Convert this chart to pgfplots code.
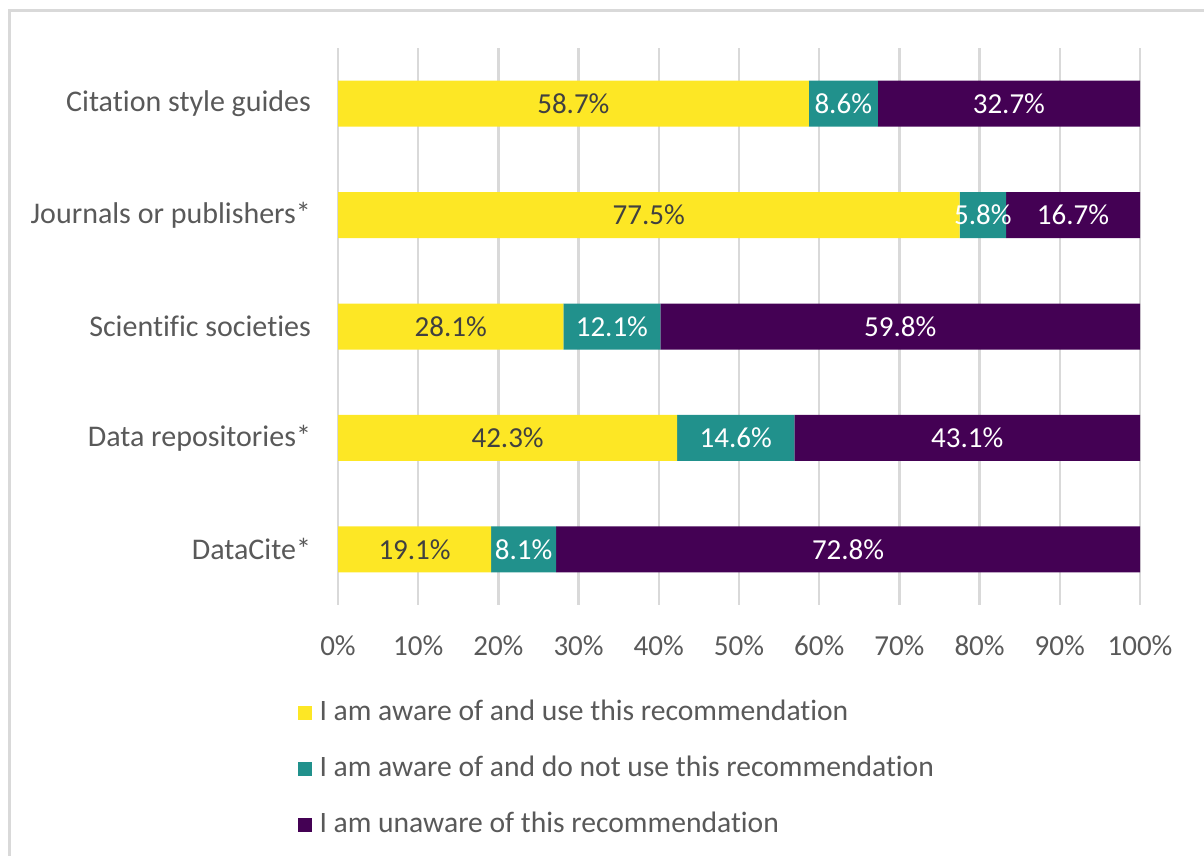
\documentclass[border=0pt]{standalone}
\usepackage{fontspec}
\setmainfont{Carlito}[Ligatures=NoCommon]
\usepackage{pgfplots}
\usepackage{pgfplotstable}
\pgfplotsset{compat=1.18}
\definecolor{vyellow}{HTML}{FDE725}
\definecolor{vteal}{HTML}{21918C}
\definecolor{vpurple}{HTML}{440154}
\definecolor{txtgray}{HTML}{595959}
\definecolor{labdark}{HTML}{404040}
\definecolor{gridgray}{HTML}{D9D9D9}

% shares per source (percent)
\pgfplotstableread{
cat use nouse unaware
0 58.7 8.6 32.7
1 77.5 5.8 16.7
2 28.1 12.1 59.8
3 42.3 14.6 43.1
4 19.1 8.1 72.8
}\datatable

\newcommand{\chartfont}{\fontsize{14.5bp}{17bp}\selectfont}

\pgfplotsset{
  frame/.style={
    at={(169bp,125.5bp)}, anchor=south west,
    scale only axis, width=401bp, height=278.5bp,
    xmin=0, xmax=100, ymin=-0.5, ymax=4.5,
    y dir=reverse,
    /pgf/number format/assume math mode=true,
  },
  barlabel/.style={
    only marks, mark=o, mark size=0pt, mark options={draw=none},
    point meta=explicit,
    nodes near coords={\pgfmathprintnumber[fixed,fixed zerofill,precision=1,assume math mode=true]{\pgfplotspointmeta}\%},
    nodes near coords align=center,
    every node near coord/.style={anchor=center, font=\chartfont, text=#1},
  },
}

\begin{document}
\begin{tikzpicture}
\path[use as bounding box] (0,0) rectangle (602bp,428bp);
\draw[gridgray, line width=1.5bp] (4.5bp,-5bp) -- (4.5bp,422.5bp) -- (610bp,422.5bp);
\begin{axis}[
  frame,
  xbar stacked, bar width=23bp,
  ytick={0,...,4},
  yticklabels={Citation style guides, Journals or publishers*, Scientific societies, Data repositories*, DataCite*},
  xtick={0,10,...,100},
  xticklabel={\pgfmathprintnumber{\tick}\%},
  xmajorgrids, major grid style={gridgray, line width=1.2bp},
  axis line style={draw=none},
  major tick length=0pt,
  tick label style={font=\chartfont, text=txtgray},
  yticklabel style={xshift=-10bp, font=\fontsize{15bp}{18bp}\selectfont},
  xticklabel style={yshift=-12bp},
  legend image code/.code={\fill[#1] (0bp,-3.5bp) rectangle (7bp,3.5bp);},
  legend cell align=left,
  legend style={at={(-0.051,-0.16)}, anchor=north west, draw=none, fill=none,
    inner sep=0pt, font=\fontsize{14.8bp}{17bp}\selectfont, text=txtgray, row sep=10bp,
    nodes={text height=11bp, text depth=3bp, inner sep=2bp},
    /tikz/every odd column/.append style={column sep=2bp}},
]
\addplot[fill=vyellow, draw=none] table[x=use, y=cat]{\datatable};
\addlegendentry{I am aware of and use this recommendation}
\addplot[fill=vteal, draw=none] table[x=nouse, y=cat]{\datatable};
\addlegendentry{I am aware of and do not use this recommendation}
\addplot[fill=vpurple, draw=none] table[x=unaware, y=cat]{\datatable};
\addlegendentry{I am unaware of this recommendation}
\end{axis}
% value labels, centred in each segment
\begin{axis}[frame, hide axis]
\addplot[barlabel=labdark] table[x expr=\thisrow{use}/2, y=cat, meta=use]{\datatable};
\addplot[barlabel=white] table[x expr=\thisrow{use}+\thisrow{nouse}/2, y=cat, meta=nouse]{\datatable};
\addplot[barlabel=white] table[x expr=\thisrow{use}+\thisrow{nouse}+\thisrow{unaware}/2, y=cat, meta=unaware]{\datatable};
\end{axis}
\end{tikzpicture}
\end{document}
